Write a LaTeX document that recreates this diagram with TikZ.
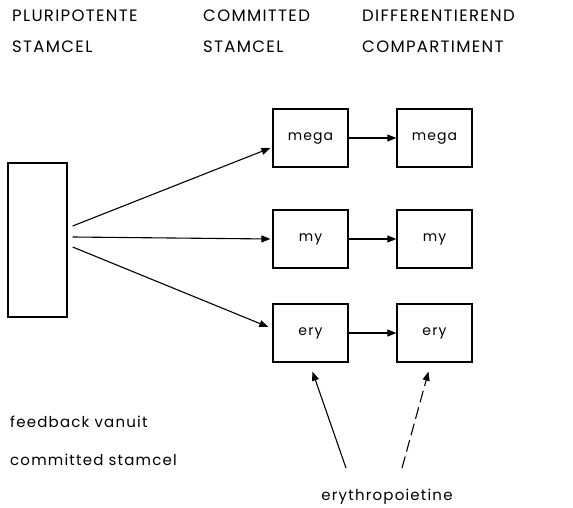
\documentclass[tikz,border=0pt]{standalone}
\usepackage{fontspec}
\setmainfont{Poppins}
\newfontfamily\spatiefont{Poppins}[LetterSpace=8]
\usetikzlibrary{arrows.meta}

\begin{document}
\begin{tikzpicture}[x=1pt, y=-1pt,
        kop/.style={anchor=base west, inner sep=0pt, font=\spatiefont\fontsize{16.5}{18}\selectfont},
        tekst/.style={anchor=base west, inner sep=0pt, font=\spatiefont\fontsize{15}{16}\selectfont},
        cel/.style={draw, line width=1.3pt, minimum width=75pt, minimum height=58pt, inner sep=0pt, font=\spatiefont\fontsize{14}{16}\selectfont},
        pijl/.style={line width=1.1pt, -{Triangle[length=9pt, width=7pt]}}]
        \useasboundingbox (0,0) rectangle (573,508);
        \node[kop] (h1a) at (12,22) {PLURIPOTENTE};
        \node[kop] (h1b) at (12,53) {STAMCEL};
        \node[kop] (h2a) at (203,22) {COMMITTED};
        \node[kop] (h2b) at (203,53) {STAMCEL};
        \node[kop] (h3a) at (362,22) {DIFFERENTIEREND};
        \node[kop] (h3b) at (362,53) {COMPARTIMENT};
        \node[draw, line width=1.3pt, minimum width=59pt, minimum height=154pt] (pluri) at (37.5,240) {};
        \node[cel] (mega1) at (310.5,138) {mega};
        \node[cel] (my1) at (310.5,239) {my};
        \node[cel] (ery1) at (310.5,333) {ery};
        \node[cel] (mega2) at (434.5,138) {mega};
        \node[cel] (my2) at (434.5,239) {my};
        \node[cel] (ery2) at (434.5,333) {ery};
        \node[tekst] (fb1) at (10,427) {feedback vanuit};
        \node[tekst] (fb2) at (10,465) {committed stamcel};
        \node[tekst, anchor=base] (epo) at (387,500) {erythropoietine};
        \coordinate (epo1) at (346,468);
        \coordinate (epo2) at (402,468);
        \draw[pijl] ([shift={(5pt,14pt)}]pluri.east) -- ([shift={(-2pt,-10pt)}]mega1.west);
        \draw[pijl] ([shift={(5pt,3pt)}]pluri.east) -- ([xshift=-2pt]my1.west);
        \draw[pijl] ([shift={(5pt,-7pt)}]pluri.east) -- ([shift={(-4pt,6pt)}]ery1.west);
        \draw[pijl] (mega1) -- (mega2);
        \draw[pijl] (my1) -- (my2);
        \draw[pijl] (ery1) -- (ery2);
        \draw[pijl] (epo1) -- ([shift={(2pt,-9pt)}]ery1.south);
        \draw[pijl, dash pattern=on 12pt off 5pt] (epo2) -- ([shift={(-6pt,-9pt)}]ery2.south);
      \end{tikzpicture}
\end{document}
